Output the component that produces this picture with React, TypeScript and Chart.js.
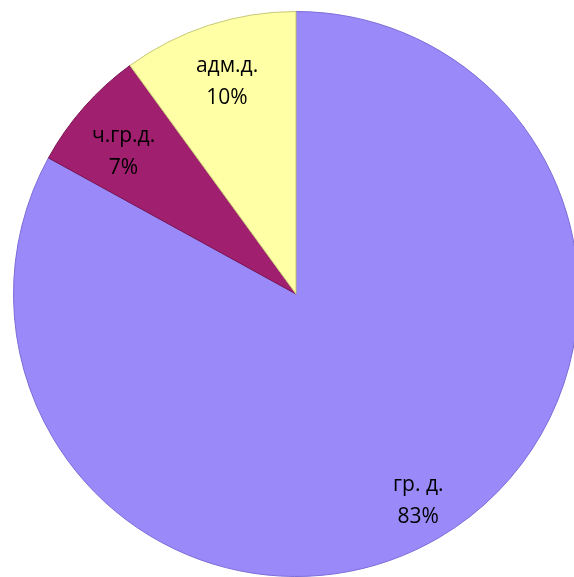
import React, { useEffect, useRef } from "react";
import { Chart, registerables } from "chart.js";

Chart.register(...registerables);

const categories = ["гр. д.", "ч.гр.д.", "адм.д."];
const percents = [83, 7, 10];
const colors = ["#9A8AF9", "#A01F6E", "#FFFFA6"];
const borders = ["#7C6CD8", "#7A1452", "#C8C878"];

const labelPlugin = {
  id: "sliceLabels",
  afterDatasetsDraw(chart: any) {
    const ctx = chart.ctx;
    const meta = chart.getDatasetMeta(0);
    const factors = [0.85, 0.79, 0.79];
    const angleShift = [0, -0.035, 0];
    ctx.save();
    ctx.fillStyle = "#000";
    ctx.font = "21px 'Open Sans', sans-serif";
    ctx.textAlign = "center";
    ctx.textBaseline = "middle";
    meta.data.forEach((arc: any, i: number) => {
      const p = arc.getProps(["x", "y", "startAngle", "endAngle", "outerRadius"], true);
      const mid = (p.startAngle + p.endAngle) / 2 + angleShift[i];
      const r = p.outerRadius * factors[i];
      const cx = p.x + Math.cos(mid) * r;
      const cy = p.y + Math.sin(mid) * r;
      ctx.fillText(categories[i], cx, cy - 16);
      ctx.fillText(percents[i] + "%", cx, cy + 16);
    });
    ctx.restore();
  },
};

export default function App() {
  const ref = useRef<HTMLCanvasElement>(null);
  useEffect(() => {
    document.body.style.margin = "0";
    document.body.style.overflow = "hidden";
    const chart = new Chart(ref.current!, {
      type: "pie",
      data: {
        labels: categories,
        datasets: [
          {
            data: percents,
            backgroundColor: colors,
            borderColor: borders,
            borderWidth: 1,
          },
        ],
      },
      options: {
        responsive: false,
        animation: false,
        layout: { padding: { left: 13, top: 11, right: 21, bottom: 23 } },
        plugins: {
          legend: { display: false },
          tooltip: { enabled: false },
        },
      },
      plugins: [labelPlugin],
    });
    return () => chart.destroy();
  }, []);
  return (
    <div
      style={{
        position: "fixed",
        left: 0,
        top: 0,
        width: 574,
        height: 577,
        overflow: "hidden",
        background: "#fff",
      }}
    >
      <canvas ref={ref} width={600} height={600} style={{ display: "block" }} />
    </div>
  );
}
